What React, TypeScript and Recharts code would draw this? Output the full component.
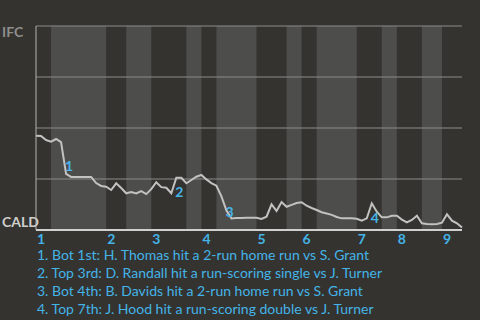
import React from 'react';
import { LineChart, Line, XAxis, YAxis, ReferenceArea, ReferenceLine, ReferenceDot } from 'recharts';

// win probability for IFC after each plate appearance (0 = CALD wins, 1 = IFC wins)
const winProb = [
  0.462, 0.461, 0.441, 0.433, 0.446, 0.431, 0.275, 0.26, 0.26, 0.26,
  0.26, 0.26, 0.23, 0.216, 0.212, 0.196, 0.229, 0.206, 0.18, 0.186,
  0.179, 0.191, 0.176, 0.2, 0.234, 0.21, 0.207, 0.18, 0.256, 0.256,
  0.229, 0.245, 0.261, 0.27, 0.248, 0.23, 0.217, 0.165, 0.095, 0.057,
  0.059, 0.059, 0.06, 0.06, 0.06, 0.054, 0.065, 0.126, 0.093, 0.137,
  0.114, 0.123, 0.132, 0.136, 0.119, 0.108, 0.098, 0.087, 0.081, 0.074,
  0.064, 0.057, 0.057, 0.057, 0.055, 0.046, 0.057, 0.131, 0.09, 0.062,
  0.062, 0.07, 0.07, 0.051, 0.037, 0.049, 0.07, 0.033, 0.029, 0.028,
  0.029, 0.036, 0.077, 0.046, 0.033, 0.012,
];

// plate appearance index where each inning starts
const inningStarts = [0, 14, 23, 33, 44, 53, 64, 72, 81];
const inningLabels = ['1', '2', '3', '4', '5', '6', '7', '8', '9'];

// bottom half-innings [start, end]
const bottomHalves = [
  [3, 14], [18, 23], [30, 33], [36, 44], [50, 53], [56, 64], [69, 72], [77, 81],
];

const eventIdx = [6, 28, 39, 67];
const eventTexts = [
  '1. Bot 1st: H. Thomas hit a 2-run home run vs S. Grant',
  '2. Top 3rd: D. Randall hit a run-scoring single vs J. Turner',
  '3. Bot 4th: B. Davids hit a 2-run home run vs S. Grant',
  '4. Top 7th: J. Hood hit a run-scoring double vs J. Turner',
];
const eventOffsets = [[3, -8], [3, 14], [-2, -7], [3, 14]];

const data = winProb.map((wp, i) => ({ pa: i, wp }));

const BG = '#34332f';
const BLUE = '#44b4e8';
const FONT = 'Lato, "Noto Sans", sans-serif';

const XTick = (props: any) => {
  const { x, y, payload, index } = props;
  return (
    <text x={x + 1} y={y + 6} textAnchor="start" fill={BLUE} fontSize={14} fontWeight="bold" fontFamily={FONT}>
      {inningLabels[index] ?? payload.value}
    </text>
  );
};

const YTick = (props: any) => {
  const { y, payload } = props;
  const top = payload.value === 1;
  return (
    <text x={2} y={top ? y + 11 : y - 3} textAnchor="start" fill={top ? '#8e8e8c' : '#cfcfcd'} fontSize={14} fontWeight="bold" fontFamily={FONT}>
      {top ? 'IFC' : 'CALD'}
    </text>
  );
};

export default function App() {
  return (
    <div style={{ position: 'fixed', left: 0, top: 0, width: 480, height: 320, background: BG, overflow: 'hidden' }}>
      <LineChart width={480} height={250} data={data} margin={{ top: 26, right: 18, bottom: 0, left: 0 }}>
        <XAxis
          dataKey="pa"
          type="number"
          domain={[0, 85]}
          ticks={inningStarts}
          interval={0}
          tick={<XTick />}
          tickLine={false}
          height={20}
          axisLine={{ stroke: '#d0d0ce', strokeWidth: 2 }}
        />
        <YAxis
          type="number"
          domain={[0, 1]}
          ticks={[0, 1]}
          width={36}
          tick={<YTick />}
          tickLine={false}
          axisLine={{ stroke: '#b4b4b2' }}
        />
        {bottomHalves.map(([a, b], i) => (
          <ReferenceArea key={i} x1={a} x2={b} y1={0} y2={1} fill="#4d4d4b" fillOpacity={1} stroke="none" />
        ))}
        {[0.25, 0.5, 0.75, 1].map((v) => (
          <ReferenceLine key={v} y={v} stroke="#8c8c8a" strokeWidth={1} />
        ))}
        <Line type="linear" dataKey="wp" stroke="#c2c2c0" strokeWidth={2} dot={false} isAnimationActive={false} />
        {eventIdx.map((idx, i) => (
          <ReferenceDot
            key={idx}
            x={idx}
            y={winProb[idx]}
            r={0}
            shape={(p: any) => (
              <text
                x={p.cx + eventOffsets[i][0]}
                y={p.cy + eventOffsets[i][1]}
                textAnchor="middle"
                dominantBaseline="central"
                fill={BLUE}
                fontSize={14}
                fontWeight="bold"
                fontFamily={FONT}
              >
                {String(i + 1)}
              </text>
            )}
          />
        ))}
      </LineChart>
      <div style={{ position: 'absolute', left: 37, top: 246, color: BLUE, fontFamily: FONT, fontSize: 14, lineHeight: '18px' }}>
        {eventTexts.map((t) => (
          <div key={t}>{t}</div>
        ))}
      </div>
    </div>
  );
}
